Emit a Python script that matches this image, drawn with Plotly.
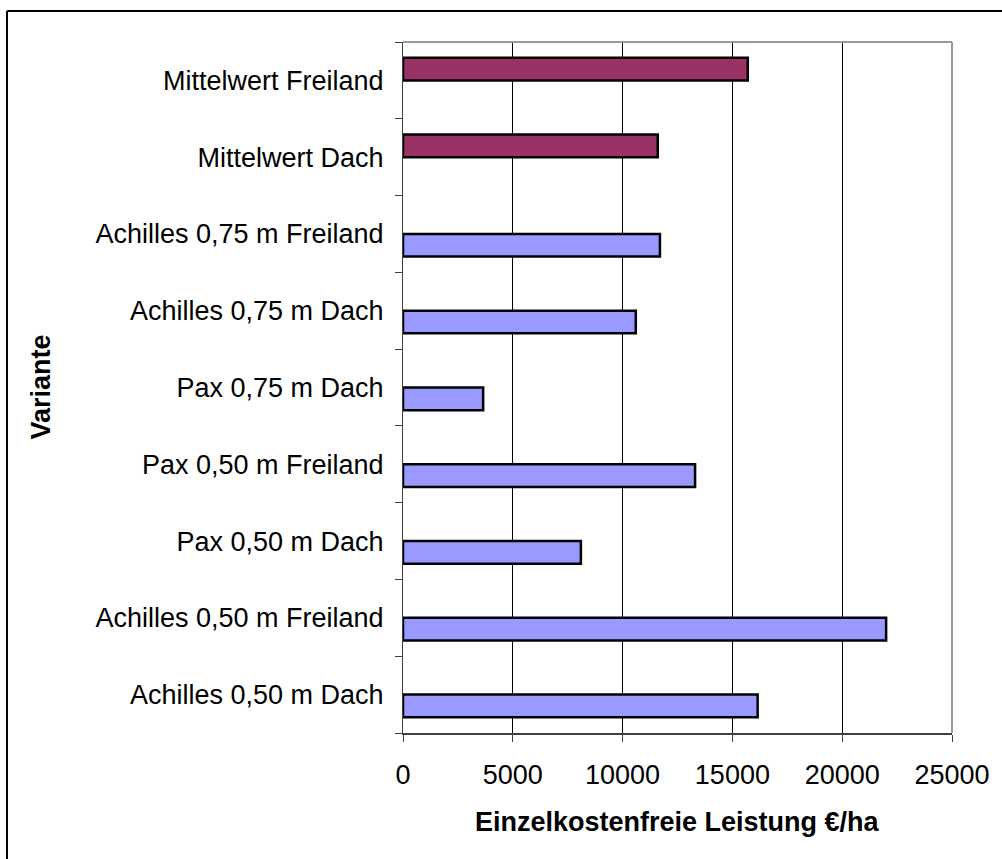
import plotly.graph_objects as go

# Categories, bottom to top
varianten = [
    "Achilles 0,50 m Dach",
    "Achilles 0,50 m Freiland",
    "Pax 0,50 m Dach",
    "Pax 0,50 m Freiland",
    "Pax 0,75 m Dach",
    "Achilles 0,75 m Dach",
    "Achilles 0,75 m Freiland",
    "Mittelwert Dach",
    "Mittelwert Freiland",
]

# Einzelkostenfreie Leistung (€/ha) per variant; means shown as a separate series
einzelwerte = [16150, 22000, 8100, 13300, 3650, 10600, 11700, None, None]
mittelwerte = [None, None, None, None, None, None, None, 11600, 15700]

x_ticks = [0, 5000, 10000, 15000, 20000, 25000]

FONT = "Liberation Sans, Arial, sans-serif"
FS = 27

fig = go.Figure()
fig.add_trace(go.Bar(
    y=varianten, x=einzelwerte, orientation="h",
    marker=dict(color="#9999FF", line=dict(color="#000000", width=2.5)),
    showlegend=False,
))
fig.add_trace(go.Bar(
    y=varianten, x=mittelwerte, orientation="h",
    marker=dict(color="#993366", line=dict(color="#000000", width=2.5)),
    showlegend=False,
))

fig.update_layout(
    width=1002, height=859,
    margin=dict(l=403, r=50, t=42, b=126),
    paper_bgcolor="white", plot_bgcolor="white",
    barmode="group", bargap=0.41, bargroupgap=0,
    font=dict(family=FONT, size=FS, color="black"),
    xaxis=dict(
        range=[0, 25000], tickvals=x_ticks, ticktext=[str(v) for v in x_ticks],
        showgrid=True, gridcolor="#000000", gridwidth=1,
        showline=True, linecolor="#404040", linewidth=2,
        ticks="outside", ticklen=7, tickcolor="#404040", tickwidth=1,
        ticklabelstandoff=10,
        zeroline=False, fixedrange=True,
    ),
    yaxis=dict(
        type="category", categoryorder="array", categoryarray=varianten,
        showgrid=False, showline=True, linecolor="#404040", linewidth=1,
        ticks="outside", tickson="boundaries", ticklen=7,
        tickcolor="#404040", tickwidth=1,
        ticklabelstandoff=13,
        zeroline=False, fixedrange=True,
    ),
    shapes=[
        # plot-area frame, top and right
        dict(type="line", xref="paper", yref="paper", x0=0, x1=1, y0=1, y1=1,
             line=dict(color="#999999", width=2)),
        dict(type="line", xref="paper", yref="paper", x0=1, x1=1, y0=0, y1=1,
             line=dict(color="#999999", width=2)),
        # outer chart frame, left and top
        dict(type="line", xref="paper", yref="paper",
             x0=(7 - 403) / 549, x1=(7 - 403) / 549, y0=(733 - 11) / 691, y1=-0.25,
             line=dict(color="#000000", width=2)),
        dict(type="line", xref="paper", yref="paper",
             x0=(7 - 403) / 549, x1=1.2, y0=(733 - 11) / 691, y1=(733 - 11) / 691,
             line=dict(color="#000000", width=2)),
    ],
    annotations=[
        dict(text="<b>Einzelkostenfreie Leistung €/ha</b>", xref="paper", yref="paper",
             x=0.5, y=(733 - 822) / 691, xanchor="center", yanchor="middle",
             showarrow=False, font=dict(family=FONT, size=FS, color="black")),
        dict(text="<b>Variante</b>", xref="paper", yref="paper",
             x=(40 - 403) / 549, y=0.5, xanchor="center", yanchor="middle",
             textangle=-90, showarrow=False,
             font=dict(family=FONT, size=FS, color="black")),
    ],
)

fig.write_html("out.html")
